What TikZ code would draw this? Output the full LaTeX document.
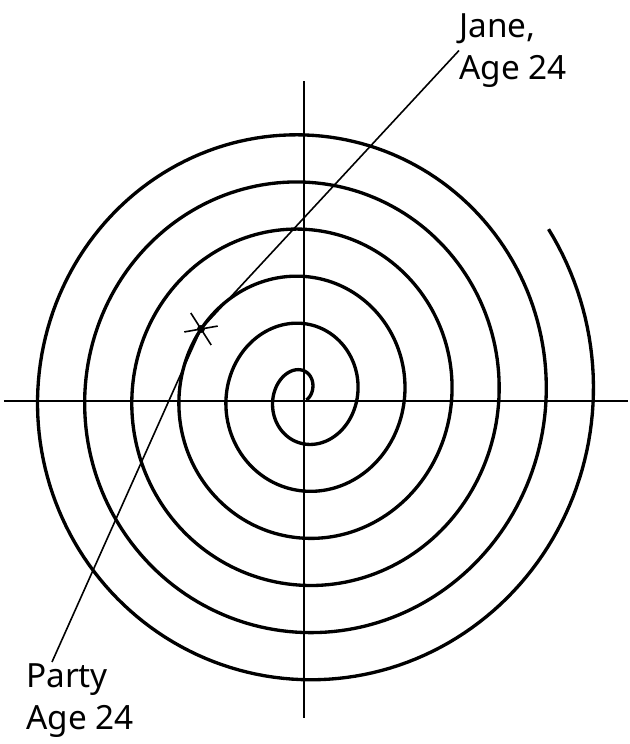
\documentclass[tikz,border=0pt]{standalone}
\usepackage{fontspec}
\setmainfont{Noto Sans}
\usepackage{tikz}
\usetikzlibrary{positioning,calc}

\tikzset{
  axisline/.style={line width=1pt},
  spiralline/.style={line width=2.5pt, line join=round},
  pointer/.style={line width=1.2pt},
  tag/.style={font=\fontsize{25}{32}\selectfont, align=left, inner sep=0pt}
}

\begin{document}
\begin{tikzpicture}[x=0.75pt, y=0.75pt]
  \useasboundingbox (-304,-343) rectangle (326,401);
  \draw[axisline] (-300,0) -- (324,0);
  \draw[axisline] (0,320) -- (0,-317);
  \draw[spiralline] plot[domain=-0.5:38.3, samples=1200, variable=\t]
    ({-0.3+(6.7+7.506*\t)*cos(\t r)}, {5.5+(13+7.506*\t)*sin(\t r)});
  \coordinate (star) at (-103,72);
  \fill (star) circle (3pt);
  \draw[pointer] (star) ++(122.5:19) -- ++(-57.5:38);
  \draw[pointer] (star) ++(190:17) -- ++(10:34);
  \node[tag, anchor=north west] (jane) at (155,388) {Jane,\\Age 24};
  \node[tag, anchor=north west] (party) at (-278,-262) {Party\\Age 24};
  \coordinate (partytip) at (-252,-261);
  \draw[pointer] (star) -- (jane.west);
  \draw[pointer] (star) -- (partytip);
\end{tikzpicture}
\end{document}
